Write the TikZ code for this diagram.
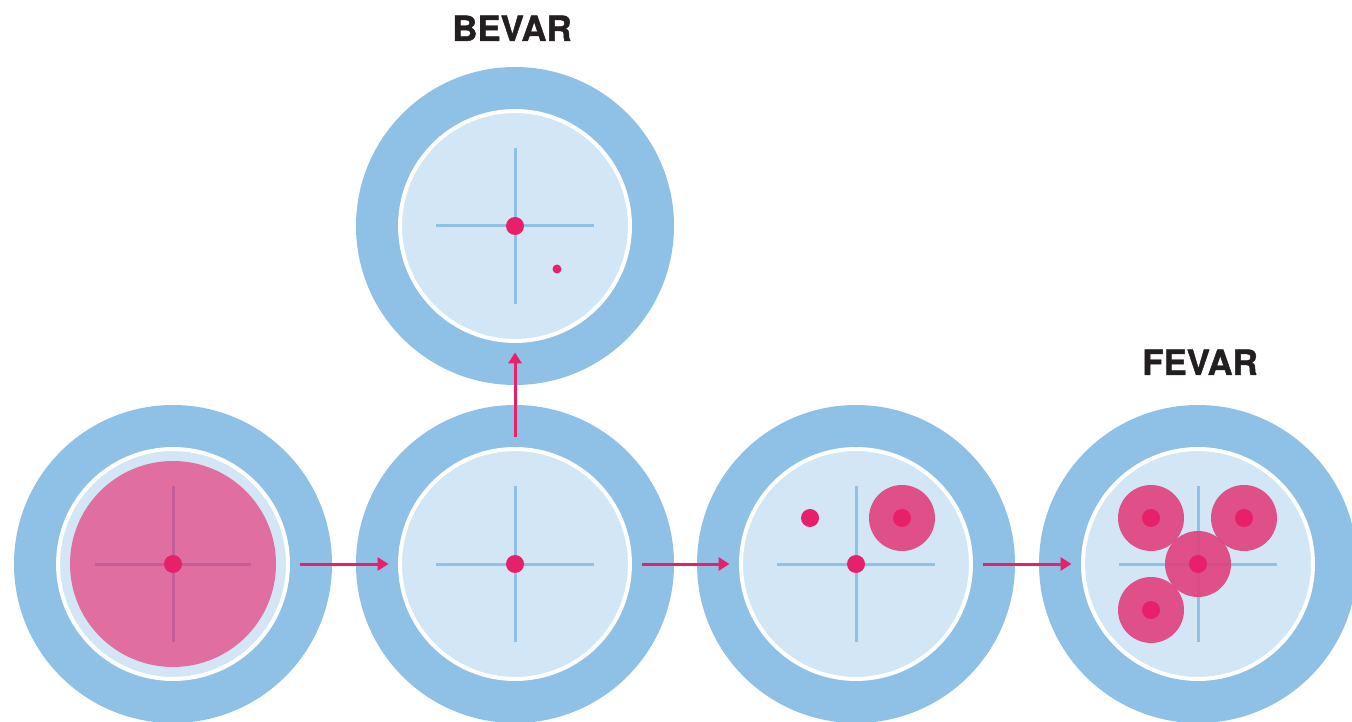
\documentclass[tikz,border=0pt]{standalone}
\usepackage{fontspec}
\setmainfont{Fira Sans}
\newfontfamily\headfont[FakeBold=1.2]{TeX Gyre Heros}
\usetikzlibrary{arrows.meta, positioning}

\definecolor{wallblue}{HTML}{8FC0E6}
\definecolor{mediumblue}{HTML}{D3E6F5}
\definecolor{tissuepink}{HTML}{E06EA0}
\definecolor{tissueline}{HTML}{C45C98}
\definecolor{spotpink}{HTML}{E8206A}
\definecolor{clumppink}{HTML}{E0407C}
\definecolor{inkblack}{HTML}{231F20}

\tikzset{
  wall/.style={fill=wallblue},
  dish/.style={circle, draw=white, line width=0.08cm, fill=mediumblue,
    minimum size=4.6cm, inner sep=0pt},
  hair/.style={draw=wallblue, line width=0.06cm},
  spot/.style={fill=spotpink},
  clump/.style={fill=clumppink, fill opacity=0.9},
  flow/.style={draw=spotpink, line width=0.06cm,
    -{Triangle[length=0.22cm, width=0.26cm]},
    shorten <=0.2cm, shorten >=0.19cm},
  title/.style={font=\headfont\bfseries\fontsize{19.8}{24}\selectfont, text=inkblack}
}

\begin{document}
\begin{tikzpicture}[x=0.02cm, y=-0.02cm]
  \useasboundingbox (0,0) rectangle (1352,722);
  % plates
  \foreach \cx/\cy/\name in {173/564/d1, 515/564/d2, 856/564/d3, 1198/564/d4, 515/226/dt}{
    \fill[wall] (\cx,\cy) circle (159);
    \node[dish] (\name) at (\cx,\cy) {};
  }
  % starting tissue
  \fill[tissuepink] (d1) circle (103);
  \draw[hair, draw=tissueline] (d1) ++(-78,0) -- ++(156,0) (d1) ++(0,-78) -- ++(0,156);
  \foreach \name in {d2, d3, d4, dt}{
    \draw[hair] (\name) ++(-79,0) -- ++(158,0) (\name) ++(0,-78) -- ++(0,156);
  }
  % colonies
  \foreach \cx/\cy in {902/518, 1151/518, 1244/518, 1198/564, 1151/610}{
    \fill[clump] (\cx,\cy) circle (33);
    \fill[spot] (\cx,\cy) circle (9);
  }
  \foreach \name in {d1, d2, d3, dt}{
    \fill[spot] (\name) circle (9);
  }
  \fill[spot] (810,518) circle (9);
  \fill[spot] (557,269) circle (4.5);
  % arrows
  \draw[flow] (d1) -- (d2);
  \draw[flow] (d2) -- (d3);
  \draw[flow] (d3) -- (d4);
  \draw[flow] (d2) -- (dt);
  % labels
  \node[title, anchor=base] (bevar) at (512,41) {BEVAR};
  \node[title, anchor=base] (fevar) at (1200,375) {FEVAR};
\end{tikzpicture}
\end{document}
